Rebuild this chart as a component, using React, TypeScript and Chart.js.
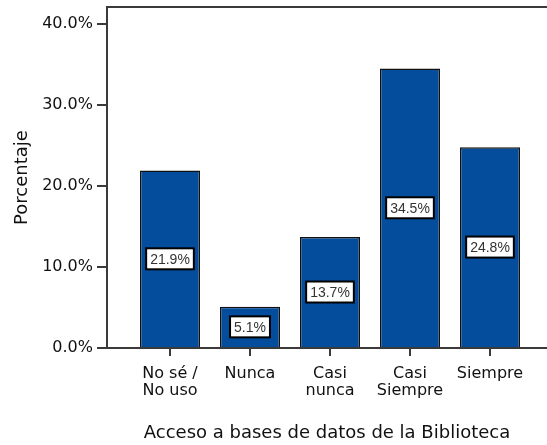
import React, { useEffect, useRef } from "react";
import { Chart, registerables } from "chart.js";

Chart.register(...registerables);

const categories: string[][] = [
  ["No sé /", "No uso"],
  ["Nunca"],
  ["Casi", "nunca"],
  ["Casi", "Siempre"],
  ["Siempre"],
];
const percentages: number[] = [21.9, 5.1, 13.7, 34.5, 24.8];
const yTicks: number[] = [0, 10, 20, 30, 40];
const xTitle = "Acceso a bases de datos de la Biblioteca";
const yTitle = "Porcentaje";

const AXIS = "#3a3a3a";

const frameTop = {
  id: "frameTop",
  afterDraw(chart: any) {
    const { ctx, chartArea } = chart;
    ctx.save();
    ctx.strokeStyle = AXIS;
    ctx.lineWidth = 2;
    ctx.beginPath();
    ctx.moveTo(chartArea.left - 1, chartArea.top);
    ctx.lineTo(chartArea.right, chartArea.top);
    ctx.stroke();
    ctx.restore();
  },
};

const barLabels = {
  id: "barLabels",
  afterDatasetsDraw(chart: any) {
    const { ctx } = chart;
    const meta = chart.getDatasetMeta(0);
    ctx.save();
    ctx.font = "14px 'Liberation Sans', Arial, sans-serif";
    ctx.textAlign = "center";
    ctx.textBaseline = "middle";
    meta.data.forEach((bar: any, i: number) => {
      const text = percentages[i].toFixed(1) + "%";
      const cx = bar.x;
      const cy = (bar.y + bar.base) / 2;
      const w = ctx.measureText(text).width + 8;
      const h = 21;
      ctx.fillStyle = "#ffffff";
      ctx.fillRect(cx - w / 2, cy - h / 2, w, h);
      ctx.strokeStyle = "#000000";
      ctx.lineWidth = 2;
      ctx.strokeRect(cx - w / 2, cy - h / 2, w, h);
      ctx.fillStyle = "#333333";
      ctx.fillText(text, cx, cy + 1);
    });
    ctx.restore();
  },
};

export default function App() {
  const ref = useRef<HTMLCanvasElement | null>(null);

  useEffect(() => {
    if (!ref.current) return;
    const chart = new Chart(ref.current, {
      type: "bar",
      data: {
        datasets: [
          {
            data: percentages.map((v, i) => ({ x: i, y: v })),
            backgroundColor: "#034d9c",
            borderColor: "#111111",
            borderWidth: 1.5,
            categoryPercentage: 1,
            barPercentage: 0.75,
          } as any,
        ],
      },
      options: {
        responsive: false,
        animation: false,
        layout: { padding: { top: 7, left: 0, right: 0, bottom: 0 } },
        plugins: {
          legend: { display: false },
          tooltip: { enabled: false },
        },
        scales: {
          x: {
            type: "linear",
            offset: false,
            min: -0.7875,
            max: 4.7125,
            afterBuildTicks: (s: any) => {
              s.ticks = categories.map((_, i) => ({ value: i }));
            },
            afterFit: (s: any) => {
              s.height = 97;
              s.paddingLeft = 0;
              s.paddingRight = 0;
            },
            ticks: {
              callback: (v: any) => categories[v as number],
              autoSkip: false,
              maxRotation: 0,
              padding: 9,
              color: "#111",
              font: { family: "'DejaVu Sans', sans-serif", size: 16, lineHeight: 1.08 },
            },
            grid: {
              offset: false,
              drawOnChartArea: false,
              drawTicks: true,
              tickLength: 8,
              color: AXIS,
              lineWidth: 2,
            },
            border: { color: AXIS, width: 2 },
            title: {
              display: true,
              text: xTitle,
              color: "#111",
              font: { family: "'DejaVu Sans', sans-serif", size: 18 },
              padding: { top: 0, bottom: 1 },
            },
          } as any,
          y: {
            min: 0,
            max: 42.1,
            afterBuildTicks: (s: any) => {
              s.ticks = yTicks.map((v) => ({ value: v }));
            },
            afterFit: (s: any) => {
              s.width = 107;
              s.paddingTop = 0;
              s.paddingBottom = 0;
            },
            ticks: {
              callback: (v: any) => Number(v).toFixed(1) + "%",
              padding: 4,
              color: "#111",
              font: { family: "'DejaVu Sans', sans-serif", size: 16 },
            },
            grid: {
              drawOnChartArea: false,
              drawTicks: true,
              tickLength: 10,
              color: AXIS,
              lineWidth: 2,
            },
            border: { color: AXIS, width: 2 },
            title: {
              display: true,
              text: yTitle,
              color: "#111",
              font: { family: "'DejaVu Sans', sans-serif", size: 18 },
              padding: { top: 12, bottom: 0 },
            },
          } as any,
        },
      },
      plugins: [frameTop, barLabels],
    });
    return () => chart.destroy();
  }, []);

  return (
    <div style={{ position: "fixed", left: 0, top: 0, width: 547, height: 445, background: "#fff" }}>
      <canvas ref={ref} width={547} height={445} />
    </div>
  );
}
